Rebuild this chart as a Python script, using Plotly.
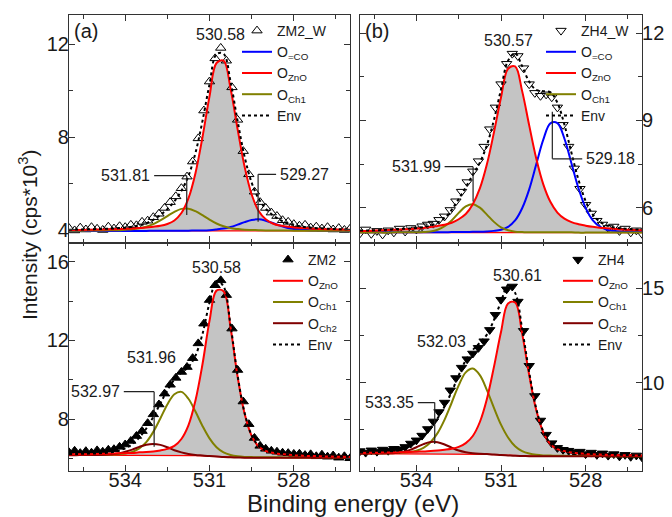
import plotly.graph_objects as go

# ---------------- data ----------------
E_DATA = [536.0, 535.8, 535.6, 535.4, 535.2, 535.0, 534.8, 534.6, 534.4, 534.2,
          534.0, 533.8, 533.6, 533.4, 533.2, 533.0, 532.8, 532.6, 532.4, 532.2,
          532.0, 531.8, 531.6, 531.4, 531.2, 531.0, 530.8, 530.6, 530.4, 530.2,
          530.0, 529.8, 529.6, 529.4, 529.2, 529.0, 528.8, 528.6, 528.4, 528.2,
          528.0, 527.8, 527.6, 527.4, 527.2, 527.0, 526.8, 526.6, 526.4, 526.2,
          526.0]
E_COMP = [536.0, 535.75, 535.5, 535.25, 535.0, 534.75, 534.5, 534.25, 534.0, 533.75,
          533.5, 533.25, 533.0, 532.75, 532.5, 532.25, 532.0, 531.75, 531.5, 531.25,
          531.0, 530.75, 530.5, 530.25, 530.0, 529.75, 529.5, 529.25, 529.0, 528.75,
          528.5, 528.25, 528.0, 527.75, 527.5, 527.25, 527.0, 526.75, 526.5, 526.25,
          526.0]

# panel (a) ZM2_W
A_DATA = [4.08, 3.98, 4.10, 4.02, 4.12, 4.05, 4.00, 4.14, 4.06, 4.16,
          4.12, 4.22, 4.20, 4.35, 4.40, 4.55, 4.70, 4.95, 5.20, 5.45,
          5.80, 6.30, 6.95, 7.95, 9.15, 10.40, 11.40, 11.85, 11.30, 10.15,
          8.75, 7.40, 6.40, 5.65, 5.20, 4.95, 4.75, 4.60, 4.42, 4.35,
          4.25, 4.18, 4.22, 4.10, 4.14, 4.06, 4.12, 4.02, 4.08, 4.00,
          4.05]
A_BASE = [3.96] * 41
A_ZNO = [4.00, 4.00, 4.00, 4.01, 4.02, 4.02, 4.03, 4.04, 4.05, 4.06,
         4.08, 4.11, 4.14, 4.18, 4.26, 4.41, 4.73, 5.36, 6.45, 8.00,
         9.76, 11.20, 11.30, 10.09, 8.35, 6.72, 5.53, 4.82, 4.46, 4.28,
         4.19, 4.15, 4.11, 4.09, 4.07, 4.05, 4.04, 4.03, 4.02, 4.02,
         4.01]
A_CH1 = [3.97, 3.97, 3.97, 3.98, 3.98, 3.98, 3.99, 3.99, 4.01, 4.03,
         4.07, 4.14, 4.25, 4.41, 4.60, 4.78, 4.91, 4.92, 4.81, 4.64,
         4.45, 4.28, 4.16, 4.08, 4.04, 4.01, 4.00, 3.99, 3.98, 3.98,
         3.98, 3.98, 3.97, 3.97, 3.97, 3.97, 3.97, 3.97, 3.97, 3.97,
         3.97]
A_CO = [3.96, 3.96, 3.96, 3.96, 3.96, 3.96, 3.96, 3.96, 3.96, 3.96,
        3.96, 3.96, 3.97, 3.97, 3.97, 3.97, 3.97, 3.97, 3.98, 3.98,
        3.99, 4.02, 4.06, 4.13, 4.23, 4.34, 4.43, 4.46, 4.40, 4.30,
        4.19, 4.10, 4.04, 4.01, 3.99, 3.98, 3.98, 3.97, 3.97, 3.97,
        3.97]
A_ENV = [4.01, 4.02, 4.02, 4.03, 4.04, 4.05, 4.06, 4.08, 4.10, 4.14,
         4.20, 4.29, 4.44, 4.64, 4.90, 5.24, 5.69, 6.33, 7.32, 8.70,
         10.28, 11.58, 11.60, 10.39, 8.70, 7.15, 6.04, 5.35, 4.92, 4.64,
         4.44, 4.30, 4.21, 4.15, 4.11, 4.08, 4.07, 4.05, 4.04, 4.03,
         4.03]

# panel (b) ZH4_W
B_DATA = [5.12, 5.25, 5.10, 5.20, 5.08, 5.22, 5.15, 5.28, 5.18, 5.30,
          5.25, 5.36, 5.42, 5.45, 5.58, 5.70, 5.92, 6.22, 6.55, 6.88,
          7.25, 7.60, 8.10, 8.70, 9.45, 10.25, 10.95, 11.30, 11.22, 10.80,
          10.25, 9.95, 9.85, 9.90, 9.80, 9.45, 8.85, 8.10, 7.35, 6.65,
          6.10, 5.80, 5.55, 5.42, 5.30, 5.35, 5.20, 5.28, 5.15, 5.22,
          5.10]
B_BASE = [5.14] * 41
B_ZNO = [5.20, 5.20, 5.21, 5.22, 5.23, 5.24, 5.25, 5.26, 5.28, 5.30,
         5.33, 5.37, 5.41, 5.48, 5.60, 5.78, 6.12, 6.66, 7.49, 8.59,
         9.79, 10.78, 10.86, 10.01, 8.83, 7.69, 6.80, 6.20, 5.83, 5.62,
         5.50, 5.43, 5.38, 5.34, 5.31, 5.29, 5.27, 5.25, 5.24, 5.23,
         5.22]
B_CH1 = [5.14, 5.14, 5.14, 5.14, 5.14, 5.15, 5.15, 5.15, 5.15, 5.16,
         5.18, 5.24, 5.36, 5.56, 5.82, 6.04, 6.12, 6.00, 5.76, 5.51,
         5.32, 5.22, 5.17, 5.16, 5.15, 5.15, 5.15, 5.15, 5.15, 5.15,
         5.15, 5.14, 5.14, 5.14, 5.14, 5.14, 5.14, 5.14, 5.14, 5.14,
         5.14]
B_CO = [5.15, 5.15, 5.15, 5.15, 5.15, 5.15, 5.15, 5.15, 5.15, 5.15,
        5.15, 5.15, 5.15, 5.16, 5.16, 5.16, 5.17, 5.17, 5.18, 5.20,
        5.24, 5.34, 5.56, 5.98, 6.63, 7.49, 8.34, 8.90, 8.91, 8.37,
        7.52, 6.66, 5.99, 5.57, 5.35, 5.24, 5.20, 5.18, 5.17, 5.16,
        5.16]
B_ENV = [5.21, 5.21, 5.22, 5.23, 5.24, 5.26, 5.27, 5.28, 5.30, 5.33,
         5.38, 5.48, 5.64, 5.92, 6.30, 6.70, 7.13, 7.55, 8.15, 9.02,
         10.07, 11.06, 11.31, 10.87, 10.33, 10.05, 10.01, 9.97, 9.61, 8.85,
         7.88, 6.95, 6.23, 5.77, 5.52, 5.39, 5.32, 5.29, 5.27, 5.25,
         5.24]

# panel (c) ZM2
C_DATA = [6.32, 6.40, 6.28, 6.38, 6.30, 6.42, 6.35, 6.45, 6.48, 6.60,
          6.72, 6.90, 7.15, 7.40, 7.80, 8.25, 8.75, 9.30, 9.75, 10.10,
          10.40, 10.65, 11.10, 11.85, 12.85, 14.05, 14.80, 15.05, 14.30, 12.60,
          10.50, 8.90, 7.75, 7.05, 6.65, 6.50, 6.40, 6.35, 6.30, 6.28,
          6.24, 6.25, 6.18, 6.22, 6.12, 6.20, 6.10, 6.16, 6.05, 6.12,
          6.02]
C_BASE = [6.18, 6.18, 6.18, 6.18, 6.18, 6.18, 6.18, 6.18, 6.18, 6.18,
          6.18, 6.18, 6.18, 6.18, 6.18, 6.17, 6.17, 6.16, 6.15, 6.14,
          6.12, 6.10, 6.08, 6.07, 6.06, 6.05, 6.05, 6.05, 6.05, 6.05,
          6.05, 6.05, 6.05, 6.05, 6.05, 6.05, 6.05, 6.05, 6.05, 6.05,
          6.05]
C_ZNO = [6.22, 6.22, 6.23, 6.23, 6.24, 6.25, 6.26, 6.27, 6.28, 6.29,
         6.32, 6.34, 6.37, 6.42, 6.50, 6.65, 7.00, 7.69, 8.95, 10.79,
         12.99, 14.53, 14.50, 12.65, 10.16, 8.28, 7.16, 6.62, 6.39, 6.30,
         6.24, 6.21, 6.18, 6.16, 6.14, 6.13, 6.12, 6.11, 6.10, 6.10,
         6.09]
C_CH1 = [6.19, 6.19, 6.20, 6.20, 6.20, 6.21, 6.21, 6.23, 6.26, 6.34,
         6.52, 6.84, 7.36, 8.04, 8.75, 9.27, 9.39, 9.04, 8.39, 7.66,
         7.03, 6.58, 6.32, 6.19, 6.12, 6.09, 6.08, 6.07, 6.07, 6.07,
         6.07, 6.06, 6.06, 6.06, 6.06, 6.06, 6.06, 6.06, 6.06, 6.06,
         6.06]
C_CH2 = [6.18, 6.18, 6.19, 6.19, 6.19, 6.20, 6.22, 6.26, 6.35, 6.46,
         6.60, 6.71, 6.75, 6.70, 6.58, 6.43, 6.32, 6.24, 6.19, 6.16,
         6.13, 6.11, 6.08, 6.07, 6.06, 6.05, 6.05, 6.05, 6.05, 6.05,
         6.05, 6.05, 6.05, 6.05, 6.05, 6.05, 6.05, 6.05, 6.05, 6.05,
         6.05]
C_ENV = [6.24, 6.24, 6.25, 6.26, 6.27, 6.29, 6.33, 6.40, 6.53, 6.74,
         7.07, 7.53, 8.12, 8.80, 9.47, 10.01, 10.37, 10.65, 11.23, 12.33,
         13.91, 15.02, 14.74, 12.77, 10.22, 8.32, 7.19, 6.64, 6.41, 6.32,
         6.26, 6.22, 6.19, 6.17, 6.15, 6.14, 6.13, 6.12, 6.11, 6.10,
         6.10]

# panel (d) ZH4
D_DATA = [6.38, 6.30, 6.42, 6.35, 6.46, 6.40, 6.50, 6.48, 6.60, 6.78,
          6.95, 7.20, 7.55, 7.95, 8.45, 8.95, 9.60, 10.25, 10.80, 11.25,
          11.55, 11.85, 12.20, 12.80, 13.60, 14.40, 14.95, 15.10, 14.30, 12.75,
          10.90, 9.30, 8.00, 7.25, 6.80, 6.55, 6.45, 6.40, 6.32, 6.35,
          6.22, 6.30, 6.18, 6.26, 6.14, 6.22, 6.10, 6.18, 6.08, 6.15,
          6.05]
D_BASE = [6.24, 6.24, 6.24, 6.24, 6.24, 6.24, 6.24, 6.24, 6.24, 6.24,
          6.24, 6.24, 6.24, 6.24, 6.24, 6.24, 6.23, 6.22, 6.21, 6.19,
          6.17, 6.15, 6.13, 6.12, 6.11, 6.10, 6.10, 6.10, 6.10, 6.10,
          6.10, 6.10, 6.10, 6.10, 6.10, 6.10, 6.10, 6.10, 6.10, 6.10,
          6.10]
D_ZNO = [6.28, 6.29, 6.29, 6.30, 6.31, 6.31, 6.32, 6.33, 6.35, 6.36,
         6.39, 6.41, 6.45, 6.50, 6.60, 6.80, 7.18, 7.92, 9.14, 10.84,
         12.69, 14.20, 14.25, 12.60, 10.41, 8.55, 7.37, 6.75, 6.48, 6.38,
         6.30, 6.26, 6.23, 6.21, 6.20, 6.18, 6.17, 6.16, 6.16, 6.15,
         6.14]
D_CH1 = [6.26, 6.26, 6.27, 6.27, 6.27, 6.28, 6.30, 6.33, 6.40, 6.55,
         6.85, 7.33, 8.05, 8.94, 9.86, 10.55, 10.75, 10.40, 9.61, 8.67,
         7.78, 7.10, 6.64, 6.38, 6.25, 6.18, 6.15, 6.14, 6.13, 6.13,
         6.12, 6.12, 6.12, 6.12, 6.12, 6.11, 6.11, 6.11, 6.11, 6.11,
         6.11]
D_CH2 = [6.24, 6.24, 6.25, 6.25, 6.26, 6.28, 6.33, 6.43, 6.58, 6.75,
         6.86, 6.85, 6.73, 6.56, 6.41, 6.32, 6.27, 6.24, 6.22, 6.20,
         6.17, 6.15, 6.13, 6.12, 6.11, 6.10, 6.10, 6.10, 6.10, 6.10,
         6.10, 6.10, 6.10, 6.10, 6.10, 6.10, 6.10, 6.10, 6.10, 6.10,
         6.10]
D_ENV = [6.31, 6.31, 6.32, 6.34, 6.36, 6.39, 6.47, 6.61, 6.85, 7.18,
         7.62, 8.11, 8.75, 9.52, 10.39, 11.19, 11.74, 12.12, 12.55, 13.33,
         14.30, 15.15, 14.76, 12.86, 10.55, 8.63, 7.42, 6.79, 6.51, 6.41,
         6.32, 6.28, 6.25, 6.23, 6.21, 6.20, 6.19, 6.18, 6.17, 6.16,
         6.15]

SAMPLE_NAMES = ["ZM2_W", "ZH4_W", "ZM2", "ZH4"]

# peak labels without leader line
PLAIN_TEXT = ["530.58", "530.57", "530.58", "531.96", "530.61", "532.03"]
PLAIN_PANEL = [0, 1, 2, 2, 3, 3]
PLAIN_E = [530.60, 530.74, 530.75, 533.05, 530.40, 533.11]
PLAIN_V = [12.41, 11.74, 15.72, 11.15, 15.67, 12.16]

# peak labels with leader line (text, panel, end of horizontal line, line level, end of vertical line)
LEADER_TEXT = ["531.81", "529.27", "531.99", "529.18", "532.97", "533.35"]
LEADER_PANEL = [0, 0, 1, 1, 2, 3]
LEADER_TEXT_E = [532.97, 528.63, 533.00, 528.12, 534.05, 533.95]
LEADER_Y = [6.34, 6.40, 7.41, 7.68, 9.40, 8.95]
LEADER_END_Y = [4.65, 4.36, 6.21, 9.30, 6.61, 6.75]

# ---------------- styling ----------------
FONT = "Liberation Sans, Arial, sans-serif"
TXT = "#1a1a1a"
AX = "#333333"
RED, BLUE, OLIVE, BROWN = "#ff0000", "#0000ff", "#808000", "#800000"
FILL = "#c4c4c4"

XL = [69 / 672, 350 / 672]
XR = [360 / 672, 642 / 672]
YT = [1 - 242.5 / 517, 1 - 15 / 517]
YB = [1 - 470.7 / 517, 1 - 242.5 / 517]

panels = [
    dict(x="x", y="y", leg="legend", data=A_DATA, sym="triangle-up-open", base=A_BASE,
         zno=A_ZNO, comps=[("O<sub>=CO</sub>", A_CO, BLUE, 2), ("O<sub>Ch1</sub>", A_CH1, OLIVE, 4)],
         env=A_ENV),
    dict(x="x2", y="y2", leg="legend2", data=B_DATA, sym="triangle-down-open", base=B_BASE,
         zno=B_ZNO, comps=[("O<sub>=CO</sub>", B_CO, BLUE, 2), ("O<sub>Ch1</sub>", B_CH1, OLIVE, 4)],
         env=B_ENV),
    dict(x="x3", y="y3", leg="legend3", data=C_DATA, sym="triangle-up", base=C_BASE,
         zno=C_ZNO, comps=[("O<sub>Ch1</sub>", C_CH1, OLIVE, 4), ("O<sub>Ch2</sub>", C_CH2, BROWN, 5)],
         env=C_ENV),
    dict(x="x4", y="y4", leg="legend4", data=D_DATA, sym="triangle-down", base=D_BASE,
         zno=D_ZNO, comps=[("O<sub>Ch1</sub>", D_CH1, OLIVE, 4), ("O<sub>Ch2</sub>", D_CH2, BROWN, 5)],
         env=D_ENV),
]

fig = go.Figure()
for i, p in enumerate(panels):
    ax = dict(xaxis=p["x"], yaxis=p["y"], legend=p["leg"])
    # background line
    fig.add_trace(go.Scatter(x=E_COMP, y=p["base"], mode="lines", line=dict(color=RED, width=1.3),
                             showlegend=False, hoverinfo="skip", **ax))
    # grey area under the ZnO component
    fig.add_trace(go.Scatter(x=E_COMP, y=p["zno"], mode="lines", fill="tonexty", fillcolor=FILL,
                             line=dict(color="rgba(0,0,0,0)", width=0, shape="spline"),
                             showlegend=False, hoverinfo="skip", **ax))
    # measured data
    fig.add_trace(go.Scatter(x=E_DATA, y=p["data"], mode="markers", name=SAMPLE_NAMES[i],
                             marker=dict(symbol=p["sym"], size=9, color="black",
                                         line=dict(color="black", width=1)),
                             legendrank=1, **ax))
    # fitted components
    for name, vals, col, rank in p["comps"]:
        fig.add_trace(go.Scatter(x=E_COMP, y=vals, mode="lines", name=name,
                                 line=dict(color=col, width=2, shape="spline"),
                                 legendrank=rank, **ax))
    fig.add_trace(go.Scatter(x=E_COMP, y=p["zno"], mode="lines", name="O<sub>ZnO</sub>",
                             line=dict(color=RED, width=2, shape="spline"), legendrank=3, **ax))
    fig.add_trace(go.Scatter(x=E_COMP, y=p["env"], mode="lines", name="Env",
                             line=dict(color="black", width=2, dash="dot", shape="spline"),
                             legendrank=6, **ax))

# ---------------- axes ----------------
def xax(domain, anchor, labels):
    return dict(domain=domain, anchor=anchor, range=[536, 526], showline=True, linecolor=AX,
                linewidth=1.2, mirror="ticks", ticks="inside", ticklen=6, tickwidth=1.2,
                tickcolor=AX, tick0=534, dtick=3, showticklabels=labels,
                ticklabelstandoff=-9,
                tickfont=dict(family=FONT, size=20, color=TXT),
                minor=dict(tick0=534, dtick=1.5, ticks="inside", ticklen=3.5, tickcolor=AX, tickwidth=1),
                showgrid=False, zeroline=False)


def yax(domain, anchor, rng, t0, dt, side):
    return dict(domain=domain, anchor=anchor, range=rng, showline=True, linecolor=AX,
                linewidth=1.2, mirror="ticks", ticks="inside", ticklen=6, tickwidth=1.2,
                tickcolor=AX, tick0=t0, dtick=dt, side=side,
                ticklabelstandoff=-5,
                tickfont=dict(family=FONT, size=20, color=TXT),
                minor=dict(tick0=t0, dtick=dt / 2, ticks="inside", ticklen=3.5, tickcolor=AX, tickwidth=1),
                showgrid=False, zeroline=False)


def leg(xp, yp):
    return dict(x=xp, y=yp, xanchor="left", yanchor="top", bgcolor="rgba(0,0,0,0)",
                font=dict(family=FONT, size=14, color=TXT), itemwidth=30, tracegroupgap=0,
                traceorder="normal")


annotations = [
    dict(text="Binding energy (eV)", x=353 / 672, y=1 - 503 / 517, xref="paper", yref="paper",
         showarrow=False, font=dict(family=FONT, size=24, color=TXT), xanchor="center", yanchor="middle"),
    dict(text="Intensity (cps*10<sup>3</sup>)", x=28 / 672, y=1 - 235 / 517, xref="paper", yref="paper",
         showarrow=False, textangle=-90, font=dict(family=FONT, size=21, color=TXT),
         xanchor="center", yanchor="middle"),
    dict(text="(a)", x=0.012, y=0.985, xref="x domain", yref="y domain", showarrow=False,
         xanchor="left", yanchor="top", font=dict(family=FONT, size=20, color=TXT)),
    dict(text="(b)", x=0.012, y=0.985, xref="x2 domain", yref="y2 domain", showarrow=False,
         xanchor="left", yanchor="top", font=dict(family=FONT, size=20, color=TXT)),
]
AXN = [("x", "y"), ("x2", "y2"), ("x3", "y3"), ("x4", "y4")]
for t, pn, e, v in zip(PLAIN_TEXT, PLAIN_PANEL, PLAIN_E, PLAIN_V):
    annotations.append(dict(text=t, x=e, y=v, xref=AXN[pn][0], yref=AXN[pn][1], showarrow=False,
                            xanchor="center", yanchor="middle",
                            font=dict(family=FONT, size=16, color=TXT)))
shapes = []
for t, pn, te, ly, ey in zip(LEADER_TEXT, LEADER_PANEL, LEADER_TEXT_E, LEADER_Y, LEADER_END_Y):
    pe = float(t)
    left = te > pe
    annotations.append(dict(text=t, x=te, y=ly, xref=AXN[pn][0], yref=AXN[pn][1], showarrow=False,
                            xanchor="right" if left else "left", yanchor="middle",
                            xshift=-2 if left else 2,
                            font=dict(family=FONT, size=16, color=TXT)))
    shapes.append(dict(type="line", xref=AXN[pn][0], yref=AXN[pn][1], x0=te, x1=pe, y0=ly, y1=ly,
                       line=dict(color="#222", width=1.2)))
    shapes.append(dict(type="line", xref=AXN[pn][0], yref=AXN[pn][1], x0=pe, x1=pe, y0=ly, y1=ey,
                       line=dict(color="#222", width=1.2)))

fig.update_layout(
    width=672, height=517, margin=dict(l=0, r=0, t=0, b=0),
    paper_bgcolor="white", plot_bgcolor="white",
    xaxis=xax(XL, "y", False), xaxis2=xax(XR, "y2", False),
    xaxis3=xax(XL, "y3", True), xaxis4=xax(XR, "y4", True),
    yaxis=yax(YT, "x", [3.46, 13.27], 4, 4, "left"),
    yaxis2=yax(YT, "x2", [4.80, 12.63], 6, 3, "right"),
    yaxis3=yax(YB, "x3", [5.39, 16.97], 8, 4, "left"),
    yaxis4=yax(YB, "x4", [5.34, 17.43], 10, 5, "right"),
    legend=leg(237 / 672, 1 - 15 / 517),
    legend2=leg(541 / 672, 1 - 15 / 517),
    legend3=leg(268 / 672, 1 - 244 / 517),
    legend4=leg(558 / 672, 1 - 244 / 517),
    annotations=annotations, shapes=shapes,
    font=dict(family=FONT, color=TXT),
)

fig.write_html("out.html", post_script="document.body.style.margin='0';",
               config={"displayModeBar": False})
